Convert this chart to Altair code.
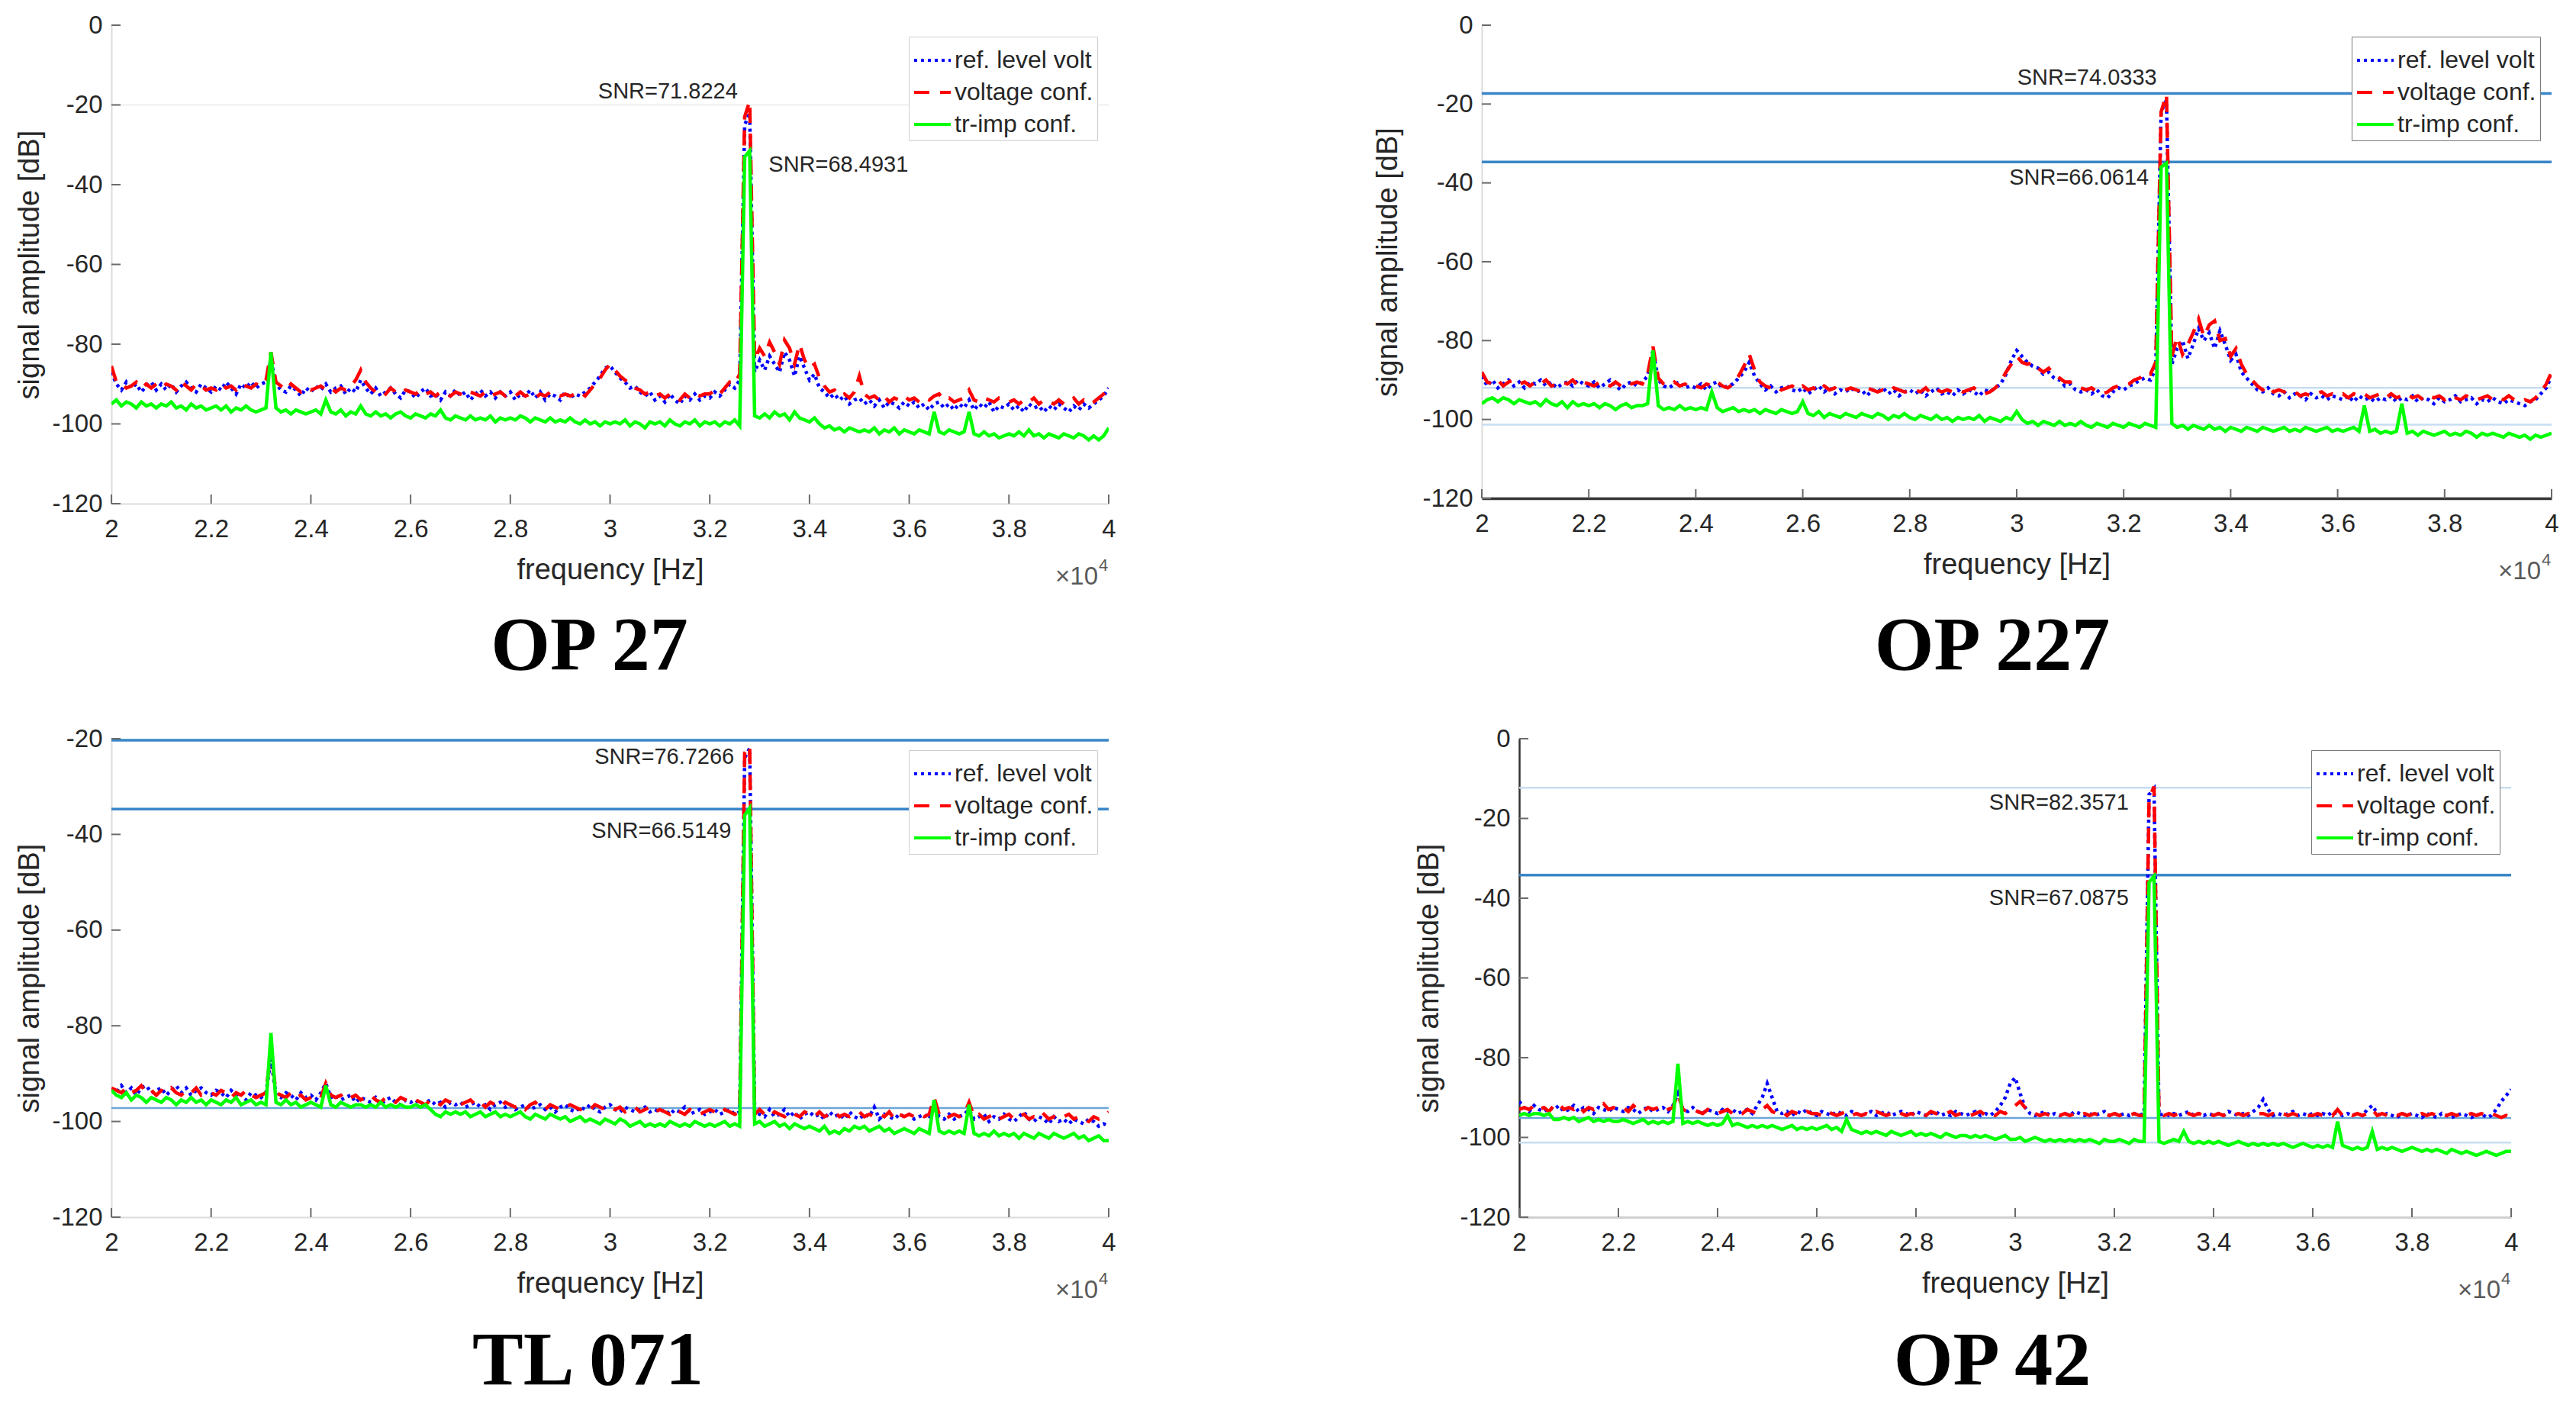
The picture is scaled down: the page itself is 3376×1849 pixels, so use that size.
import altair as alt
import pandas as pd

# ---------------- data ----------------
FREQ = [20000, 20100, 20200, 20300, 20400, 20500, 20600, 20700, 20800, 20900,
        21000, 21100, 21200, 21300, 21400, 21500, 21600, 21700, 21800, 21900,
        22000, 22100, 22200, 22300, 22400, 22500, 22600, 22700, 22800, 22900,
        23000, 23100, 23200, 23300, 23400, 23500, 23600, 23700, 23800, 23900,
        24000, 24100, 24200, 24300, 24400, 24500, 24600, 24700, 24800, 24900,
        25000, 25100, 25200, 25300, 25400, 25500, 25600, 25700, 25800, 25900,
        26000, 26100, 26200, 26300, 26400, 26500, 26600, 26700, 26800, 26900,
        27000, 27100, 27200, 27300, 27400, 27500, 27600, 27700, 27800, 27900,
        28000, 28100, 28200, 28300, 28400, 28500, 28600, 28700, 28800, 28900,
        29000, 29100, 29200, 29300, 29400, 29500, 29600, 29700, 29800, 29900,
        30000, 30100, 30200, 30300, 30400, 30500, 30600, 30700, 30800, 30900,
        31000, 31100, 31200, 31300, 31400, 31500, 31600, 31700, 31800, 31900,
        32000, 32100, 32200, 32300, 32400, 32500, 32600, 32700, 32800, 32900,
        33000, 33100, 33200, 33300, 33400, 33500, 33600, 33700, 33800, 33900,
        34000, 34100, 34200, 34300, 34400, 34500, 34600, 34700, 34800, 34900,
        35000, 35100, 35200, 35300, 35400, 35500, 35600, 35700, 35800, 35900,
        36000, 36100, 36200, 36300, 36400, 36500, 36600, 36700, 36800, 36900,
        37000, 37100, 37200, 37300, 37400, 37500, 37600, 37700, 37800, 37900,
        38000, 38100, 38200, 38300, 38400, 38500, 38600, 38700, 38800, 38900,
        39000, 39100, 39200, 39300, 39400, 39500, 39600, 39700, 39800, 39900,
        40000]

OP27_REF = [-87, -90, -91.5, -89.5, -91, -90, -92, -90.5, -89.5, -91.5,
            -90, -91.5, -90, -92, -90.5, -89.5, -91, -92, -90, -91,
            -92, -90.5, -91.5, -89.5, -91, -92.5, -90, -91, -89.5, -91,
            -90, -89.5, -84, -90, -91.5, -92, -90.5, -91.5, -93, -91,
            -92, -90.5, -91.5, -90, -92, -91, -90.5, -92.5, -91, -92,
            -89, -91, -92.5, -91, -93, -92, -91, -92.5, -93.5, -91.5,
            -92, -93.5, -92, -91, -93, -92.5, -94, -92, -93, -91.5,
            -93, -92, -94, -92.5, -91.5, -93, -92, -93.5, -92, -93,
            -92, -94, -92.5, -93, -91.5, -93.5, -92, -94, -92.5, -93,
            -94, -92, -93.5, -92.5, -93, -92, -91, -89.5, -88, -86,
            -85.5, -87, -88.5, -89.5, -91, -90.5, -92, -93, -92, -94,
            -93, -94.5, -92.5, -94, -95, -93, -94, -92.5, -94, -93,
            -93.5, -92, -93, -91.5, -90, -91, -89, -25, -22, -87,
            -84, -86.5, -83, -85, -87, -82, -84, -88, -83, -86,
            -89, -87.5, -91, -92, -93.5, -92.5, -94, -93, -95, -94,
            -93.5, -95, -94, -95.5, -94, -96, -94.5, -95, -96, -94.5,
            -95.5, -94.5, -96, -95, -96.5, -95, -94.5, -96, -95, -96.5,
            -95, -96, -94, -96.5, -95, -96, -94.5, -97, -95.5, -96,
            -95, -96.5, -95.5, -97, -95, -96, -95.5, -97, -95.5, -96.5,
            -95, -96, -97, -95.5, -96.5, -95, -96, -95, -94, -93,
            -91]
OP27_VOLT = [-85.5, -89.5, -90, -91, -90.5, -89.5, -91, -90, -91, -90,
             -91, -90, -90.5, -91.5, -89.5, -90.5, -91.5, -90, -90.5, -91.5,
             -91, -91.5, -90, -91, -90.5, -91.5, -90, -90.5, -91, -90,
             -90.5, -89, -82, -89.5, -90.5, -91.5, -90, -91, -92, -91,
             -91.5, -91, -90.5, -91.5, -91, -92, -91, -91.5, -90.5, -89,
             -86.5, -89.5, -91, -92, -91.5, -92.5, -91, -92, -92.5, -91.5,
             -92, -92.5, -91.5, -92.5, -92, -93, -92, -92.5, -93, -92,
             -92.5, -93, -92, -92.5, -93, -92, -93, -92.5, -92, -93,
             -92.5, -93, -92, -93, -92.5, -93.5, -92.5, -93, -92, -92.5,
             -93, -92.5, -93, -92.5, -92, -93, -91.5, -90, -88.5, -86.5,
             -85, -86.5, -88, -89, -90, -91, -91.5, -92.5, -92, -93,
             -92.5, -93.5, -92.5, -93, -94, -92.5, -93.5, -92.5, -93, -92.5,
             -92.5, -91.5, -92.5, -91, -89.5, -90, -87.5, -23, -19, -84,
             -81, -83, -79.5, -82, -85, -79, -81, -85, -80, -84,
             -86, -85, -88.5, -90.5, -92, -91.5, -93, -92.5, -93.5, -92,
             -88, -92.5, -93.5, -93, -94, -93, -94.5, -93.5, -94, -93,
             -94, -93.5, -94.5, -93.5, -94, -93, -92.5, -94, -93.5, -94.5,
             -94, -93.5, -91.5, -94, -94.5, -93.5, -94, -94.5, -93.5, -94,
             -94.5, -94, -95, -94, -94.5, -93.5, -95, -94, -94.5, -95,
             -94, -95, -94.5, -93.5, -95, -94, -95, -94.5, -93.5, -92.5,
             -90.5]
OP27_TR = [-95, -94, -95.5, -94.5, -95, -96, -94.5, -95.5, -95, -96,
           -95, -95.5, -94.5, -96, -95.5, -96.5, -95, -96, -95.5, -96.5,
           -96, -95.5, -96.5, -95.5, -97, -96, -96.5, -95.5, -96.5, -97,
           -96.5, -96, -82, -96, -97, -96.5, -97.5, -96.5, -97, -97.5,
           -97, -96.5, -97.5, -94, -97, -97.5, -96.5, -98, -97, -97.5,
           -95.5, -97.5, -98, -97, -98, -97.5, -98.5, -97.5, -97, -98,
           -98.5, -97.5, -98, -98.5, -97.5, -98, -96.5, -98.5, -99, -98,
           -98.5, -99, -98, -99, -98.5, -99, -98, -99.5, -98.5, -99,
           -98.5, -99, -98, -98.5, -99.5, -98.5, -99, -99.5, -98.5, -99.5,
           -99, -99.5, -98.5, -99.5, -100, -99, -100, -99.5, -100.5, -99.5,
           -100, -99.5, -100, -99, -100.5, -99.5, -100, -101, -99.5, -100,
           -99.5, -100.5, -99, -100, -100.5, -99.5, -100, -99, -100.5, -99.5,
           -100, -99.5, -100.5, -99.5, -100, -99, -100.5, -33, -31.5, -98,
           -98.5, -97.5, -98.5, -97, -98, -97.5, -99, -97, -98.5, -99,
           -99.5, -98.5, -100, -101, -100.5, -101.5, -101, -102, -101, -101.5,
           -102, -101.5, -102, -101, -102.5, -101.5, -102, -101, -102.5, -101.5,
           -102, -102.5, -101.5, -102, -102.5, -97, -102, -102.5, -101.5, -102,
           -102.5, -102, -97, -102.5, -103, -102, -103, -102.5, -103.5, -103,
           -102.5, -103, -102, -103, -101.5, -103, -102.5, -103.5, -102.5, -103,
           -103.5, -102.5, -103, -103.5, -102.5, -103, -104, -103, -104, -103,
           -101]

OP227_REF = [-89, -91.5, -90, -92, -91, -90, -91.5, -90.5, -92, -90.5,
             -91, -90, -91.5, -90.5, -92, -91, -90.5, -91.5, -90, -91,
             -91.5, -90.5, -92, -91, -90, -91.5, -92.5, -91, -90.5, -91.5,
             -90.5, -89, -82.5, -90, -91.5, -92, -91, -90.5, -92, -91.5,
             -92, -91, -92.5, -91, -90.5, -92, -91.5, -91, -89.5, -88,
             -85.5, -89, -91, -92.5, -91.5, -93, -92, -91.5, -92.5, -93,
             -92, -93.5, -92.5, -91.5, -93, -92, -93.5, -92.5, -93, -92,
             -93, -92.5, -94, -92.5, -93, -92, -93.5, -92.5, -94, -93,
             -92.5, -93.5, -92.5, -94, -93, -92, -93.5, -93, -94, -92.5,
             -93.5, -92.5, -93, -94, -92.5, -93, -92, -91, -88.5, -85,
             -82.5, -84, -85.5, -86.5, -87, -88.5, -88, -89.5, -90, -91.5,
             -91, -92.5, -93, -92.5, -93.5, -92.5, -94, -94.5, -93, -92,
             -92.5, -91.5, -91, -90, -89.5, -90, -87, -22, -19, -86,
             -82, -80, -84.5, -81, -77, -80, -78, -82, -77.5, -81,
             -85, -83.5, -88, -89.5, -91, -92.5, -93, -92, -93.5, -94,
             -93, -94.5, -93.5, -94, -95, -93.5, -94.5, -94, -95, -94,
             -94.5, -95, -94, -95.5, -94, -95, -94.5, -95.5, -94.5, -95,
             -94, -95.5, -94.5, -95, -94, -95.5, -94.5, -95, -96, -94.5,
             -95.5, -95, -94, -95.5, -95, -94.5, -96, -95, -95.5, -94.5,
             -95.5, -96, -95, -95.5, -96, -96.5, -95.5, -95, -93.5, -92,
             -89]
OP227_VOLT = [-88, -90.5, -91, -90, -91.5, -90.5, -90, -91, -90.5, -91.5,
              -90.5, -91, -90, -91.5, -91, -90.5, -91, -90, -91.5, -90.5,
              -91, -91.5, -90.5, -91, -91.5, -90.5, -91.5, -90.5, -91, -90.5,
              -91, -88.5, -81.5, -89.5, -91, -91.5, -90.5, -91.5, -91, -92,
              -91.5, -92, -91, -91.5, -90.5, -91.5, -92, -91, -89, -86.5,
              -83.5, -87.5, -90.5, -91.5, -92, -91.5, -92.5, -92, -91.5, -92.5,
              -91.5, -92.5, -92, -93, -91.5, -92.5, -92, -93, -92.5, -92,
              -92.5, -93, -92, -92.5, -93, -92.5, -93, -92, -92.5, -93,
              -93, -92.5, -93, -92, -93.5, -92.5, -93, -92.5, -93, -92.5,
              -93, -92.5, -92, -93, -93.5, -93, -92, -90.5, -88, -86,
              -84, -85.5, -86, -85.5, -87, -88, -87, -88.5, -89.5, -90.5,
              -90.5, -91.5, -92, -92.5, -92, -93, -93.5, -93, -92, -91.5,
              -91.5, -91, -90, -89.5, -88, -88.5, -85.5, -22, -17.5, -84,
              -79, -83.5, -81, -78, -74.5, -79, -76, -75, -80, -79.5,
              -84, -82, -86, -88.5, -90, -91.5, -92.5, -91.5, -93, -92.5,
              -93, -93.5, -93, -94, -93.5, -94, -93.5, -93, -94, -93.5,
              -94, -93.5, -94.5, -93.5, -94, -93.5, -94.5, -94, -93.5, -94.5,
              -93.5, -94.5, -94, -93.5, -94.5, -94, -95, -94, -94.5, -94,
              -95, -94, -94.5, -95, -94, -94.5, -95, -94.5, -94, -95,
              -94.5, -95, -94, -95, -95.5, -95, -95.5, -94.5, -93, -91,
              -88]
OP227_TR = [-96, -95, -94.5, -95.5, -94.5, -95, -96, -95, -95.5, -96,
            -95.5, -96.5, -95, -96, -96.5, -95.5, -97, -95.5, -96.5, -96,
            -96.5, -96, -97, -96, -96.5, -97.5, -96.5, -96, -97, -96.5,
            -96.5, -96, -82.5, -96.5, -97.5, -97, -97.5, -96.5, -97.5, -97,
            -97.5, -97, -97.5, -93, -97, -98, -97.5, -97, -98, -97.5,
            -98, -97.5, -98.5, -97.5, -98, -98.5, -97.5, -98, -98.5, -98,
            -95.5, -98.5, -99, -98, -99.5, -98.5, -99, -99.5, -98.5, -99,
            -99.5, -98.5, -99, -99.5, -98.5, -99, -100, -99, -99.5, -98.5,
            -99.5, -100, -99, -99.5, -100, -99, -100, -99.5, -100.5, -99.5,
            -100, -99.5, -100, -99, -100.5, -99.5, -100, -100.5, -99.5, -100,
            -98, -100, -101, -100.5, -101.5, -100.5, -101, -101.5, -100.5, -101.5,
            -101, -101.5, -100.5, -101.5, -102, -101, -101.5, -102, -101, -101.5,
            -102, -101, -101.5, -102, -101, -101.5, -102, -36, -35, -101,
            -102, -101.5, -102.5, -101.5, -102, -102.5, -101.5, -102.5, -102, -103,
            -102, -102.5, -103, -102, -102.5, -103, -102, -102.5, -103, -102.5,
            -102, -103, -102.5, -103, -102, -102.5, -103, -102.5, -102, -103,
            -102.5, -103, -102.5, -102, -103, -96.5, -103, -102.5, -103.5, -103,
            -103.5, -103, -96, -103.5, -103, -104, -103, -103.5, -104, -103.5,
            -103, -104, -103.5, -104, -103, -103.5, -104.5, -103.5, -104, -103.5,
            -104, -104.5, -103.5, -104, -104.5, -104, -105, -104, -104.5, -104,
            -103.5]

TL071_REF = [-93.5, -94, -92.5, -94, -93, -94.5, -93, -92.5, -94, -93.5,
             -93, -94.5, -93.5, -92.5, -94, -93, -94.5, -93.5, -93, -94,
             -94.5, -93.5, -94, -95, -93.5, -94.5, -94, -95.5, -94, -94.5,
             -95, -94, -87, -94.5, -95, -94, -94.5, -95.5, -94, -95,
             -94.5, -95.5, -94, -92, -95, -94.5, -95.5, -95, -94.5, -96,
             -95, -95.5, -96, -95, -96.5, -95.5, -95, -96, -96.5, -95.5,
             -96, -95.5, -96.5, -96, -95.5, -96.5, -96, -97, -96, -96.5,
             -96, -97, -96.5, -96, -97, -96.5, -97.5, -96.5, -96, -97,
             -96.5, -97.5, -97, -96.5, -97.5, -97, -96.5, -97.5, -97, -98,
             -97, -96.5, -97.5, -98, -97, -97.5, -96.5, -97.5, -98, -97,
             -96.5, -97.5, -98, -97, -97.5, -98, -97.5, -97, -98, -97.5,
             -98, -97.5, -98.5, -97.5, -98, -97, -98.5, -98, -97.5, -98.5,
             -98, -97.5, -98.5, -98, -97.5, -98.5, -98, -24, -22, -98,
             -98.5, -99, -97.5, -99, -98.5, -97.5, -99, -98, -99.5, -98.5,
             -98, -99, -98.5, -99.5, -98, -99, -98.5, -99.5, -98, -99,
             -99.5, -98.5, -99, -97, -99.5, -98.5, -99, -99.5, -98.5, -99,
             -98.5, -99.5, -99, -98.5, -99.5, -97, -99, -99.5, -98.5, -99.5,
             -99, -98.5, -97.5, -99.5, -99, -98.5, -100, -99, -99.5, -98.5,
             -99.5, -100, -99, -98, -99.5, -100, -99, -99.5, -100.5, -99,
             -100, -99.5, -100.5, -99.5, -100, -100.5, -99.5, -100, -101, -100.5,
             -101]
TL071_VOLT = [-93, -93.5, -94, -93, -94, -93.5, -92.5, -94, -93.5, -94.5,
              -93.5, -94, -93, -94, -94.5, -93.5, -94, -93, -94.5, -94,
              -94, -94.5, -93.5, -94, -95, -94, -94.5, -93.5, -94.5, -95,
              -94.5, -94, -85, -94, -94.5, -95, -94, -95, -94.5, -95.5,
              -95, -94.5, -95, -92, -94.5, -95, -94.5, -95.5, -95, -94.5,
              -95.5, -95, -94.5, -95.5, -96, -95, -95.5, -96, -95, -95.5,
              -96, -95.5, -96, -96.5, -95.5, -96, -96.5, -95.5, -96, -96.5,
              -96.5, -96, -95.5, -96.5, -96, -97, -96, -96.5, -97, -96,
              -96.5, -97, -96.5, -97.5, -96.5, -96, -97, -97.5, -96.5, -97,
              -97.5, -97, -96.5, -97, -97.5, -97, -97.5, -96.5, -97, -97.5,
              -97, -97.5, -97, -98, -97.5, -97, -98, -97.5, -97, -98,
              -97.5, -98, -98.5, -97.5, -98, -98.5, -97.5, -98, -98.5, -98,
              -97.5, -98, -98.5, -97.5, -98, -98.5, -98, -23, -21.5, -98.5,
              -97.5, -98.5, -99, -98, -98.5, -99, -98, -98.5, -99, -98,
              -98.5, -99, -98, -99, -98.5, -98, -99, -98.5, -99, -98.5,
              -98, -99, -98.5, -99, -98.5, -99, -98, -99.5, -98.5, -99,
              -98.5, -99, -98.5, -99, -98.5, -95, -98.5, -99.5, -99, -98.5,
              -99, -98.5, -96, -99, -98.5, -99.5, -99, -98.5, -99.5, -99,
              -98.5, -99.5, -99, -98.5, -99.5, -99, -99.5, -98.5, -99.5, -99,
              -99.5, -99, -98.5, -99.5, -99, -99.5, -100, -99, -99.5, -99,
              -98]
TL071_TR = [-93.5, -94.5, -95, -94, -95.5, -94.5, -95, -96, -95, -95.5,
            -96, -95, -95.5, -96.5, -95.5, -96, -95, -96, -95.5, -96.5,
            -95.5, -96, -96.5, -95.5, -96, -95, -96.5, -96, -95.5, -96.5,
            -96, -96.5, -81.5, -96, -96.5, -95.5, -96.5, -96, -97, -96.5,
            -96, -96.5, -97, -92.5, -96.5, -97, -96, -96.5, -97, -96.5,
            -96.5, -97, -96.5, -97, -96, -97, -96.5, -97, -96.5, -97,
            -97, -96.5, -97, -96.5, -97.5, -98.5, -99, -98, -98.5, -98,
            -98.5, -98, -99, -98.5, -98, -99, -98.5, -98, -99, -98.5,
            -99, -98.5, -98, -99, -99.5, -98.5, -99, -99.5, -98.5, -99,
            -99.5, -99, -100, -99.5, -99, -100, -99.5, -100, -100.5, -99.5,
            -100, -100.5, -99.5, -100, -101, -100.5, -100, -101, -100.5, -101,
            -100.5, -101, -100, -100.5, -101, -100.5, -101, -100, -100.5, -101,
            -100.5, -101, -100.5, -100, -101, -100.5, -101, -36, -34.5, -100.5,
            -100, -101, -100.5, -100, -101, -100.5, -101.5, -100.5, -101, -101.5,
            -101, -101.5, -102, -101, -102.5, -102, -102.5, -101.5, -102, -101,
            -101.5, -101, -102, -101.5, -101, -102, -101.5, -102.5, -102, -101.5,
            -102, -102.5, -101.5, -102, -102.5, -95.5, -102, -102.5, -102, -102.5,
            -102, -102.5, -96.5, -102.5, -103, -102.5, -103, -102, -103, -102.5,
            -103, -102.5, -103.5, -102.5, -103, -103.5, -102.5, -103, -103.5, -102.5,
            -103, -103.5, -103, -102.5, -103.5, -103, -104, -103.5, -103, -104,
            -104]

OP42_REF = [-91, -92.5, -93.5, -92, -93, -93.5, -92.5, -93, -92, -93.5,
            -93, -92, -93.5, -92.5, -93, -94, -92.5, -93, -93.5, -92.5,
            -93, -93.5, -92.5, -93, -94, -93, -92.5, -93.5, -93, -92.5,
            -93.5, -92, -89, -93, -93.5, -92.5, -93.5, -94, -93, -93.5,
            -94, -93, -93.5, -93, -94, -93.5, -93, -94, -92, -90,
            -86.5, -90, -93.5, -94, -93.5, -94.5, -93.5, -94, -93, -94,
            -94.5, -93.5, -94, -94.5, -93.5, -94, -94.5, -93.5, -94, -94.5,
            -94, -93.5, -94.5, -94, -93.5, -94.5, -94, -93.5, -94, -94.5,
            -93.5, -94, -94.5, -94, -93.5, -94.5, -94, -94.5, -93.5, -94,
            -94.5, -94, -93.5, -94.5, -94, -94.5, -93.5, -92, -90, -86.5,
            -85, -89, -92.5, -94, -94.5, -94, -93.5, -94.5, -94, -94.5,
            -94, -94.5, -93.5, -94, -94.5, -94, -94.5, -94, -93.5, -94.5,
            -94, -94.5, -94, -94.5, -94, -94.5, -94, -14, -12.5, -94.5,
            -94, -94.5, -94, -94.5, -94, -93.5, -94.5, -94, -94.5, -94,
            -94.5, -94, -94.5, -93.5, -94, -94.5, -94, -94.5, -93.5, -92.5,
            -90.5, -93, -94.5, -94, -94.5, -94, -93.5, -94.5, -94, -94.5,
            -94, -94.5, -94, -94.5, -93.5, -94, -94.5, -94, -94.5, -94,
            -94.5, -93, -92, -94, -94.5, -94, -94.5, -95, -94, -94.5,
            -94, -94.5, -95, -94, -94.5, -95, -94, -94.5, -95, -94.5,
            -94, -94.5, -95, -94.5, -94, -95, -94.5, -93, -91, -89.5,
            -88]
OP42_VOLT = [-93, -92.5, -93, -92, -93, -92.5, -93.5, -92, -91.5, -93,
             -92.5, -93, -92, -93.5, -92.5, -93, -92, -91.5, -93, -92.5,
             -93, -92.5, -93.5, -92, -93, -93.5, -92.5, -93, -92.5, -93.5,
             -93, -92.5, -89, -93, -93.5, -93, -93.5, -94, -93, -93.5,
             -94, -93.5, -93, -94, -93.5, -94, -93, -93.5, -94, -93,
             -92, -93.5, -94, -93.5, -94.5, -93.5, -94, -94.5, -93.5, -94,
             -94, -94.5, -93.5, -94, -94.5, -94, -93.5, -94.5, -94, -94.5,
             -94, -94.5, -93.5, -94, -94.5, -94, -93.5, -94, -94.5, -94,
             -94.5, -94, -94.5, -93.5, -94, -94.5, -94, -93.5, -94.5, -94,
             -94, -94.5, -94, -93.5, -94.5, -94, -94.5, -93.5, -94, -93,
             -92, -91, -92.5, -93.5, -94, -94.5, -94, -94.5, -94, -94.5,
             -94, -94.5, -94, -94.5, -94, -94.5, -94, -94.5, -94, -94.5,
             -94, -94.5, -94, -94.5, -94, -94.5, -94.5, -15, -12, -94,
             -94.5, -94, -94.5, -94, -94.5, -94, -94.5, -94, -94.5, -94,
             -94.5, -94, -94.5, -94, -94.5, -94, -94.5, -94, -94.5, -94,
             -94, -94.5, -94, -94.5, -94, -94.5, -94, -94.5, -94, -94.5,
             -94.5, -94, -94.5, -94, -94.5, -93, -94.5, -94, -94.5, -94,
             -94.5, -94, -93, -94.5, -94, -94.5, -94, -94.5, -94, -94.5,
             -94, -94.5, -94, -94.5, -94, -94.5, -94, -94.5, -94, -94.5,
             -94, -94.5, -94, -94.5, -94, -94.5, -94, -94.5, -95, -94.5,
             -95]
OP42_TR = [-94.5, -94, -94.5, -94, -94, -94.5, -94, -95.5, -95.5, -95,
           -95.5, -95, -96, -95.5, -95, -96, -95.5, -96, -95.5, -96,
           -96, -95.5, -96, -96.5, -96, -95.5, -96.5, -96, -96.5, -96,
           -96.5, -96, -81.5, -96.5, -96, -96.5, -96, -96.5, -97, -96.5,
           -97, -96.5, -94.5, -97, -96.5, -97, -97.5, -97, -97.5, -97,
           -97.5, -97, -97.5, -98, -97.5, -97, -98, -97.5, -98, -97.5,
           -98, -97.5, -97, -98, -97.5, -98.5, -95.5, -98, -98.5, -99,
           -98.5, -99, -98.5, -99, -99.5, -98.5, -99, -99.5, -99, -98.5,
           -99.5, -99, -99.5, -99, -99.5, -100, -99, -99.5, -100, -99.5,
           -99.5, -100, -99.5, -100, -99.5, -100, -100.5, -100, -99.5, -100.5,
           -100.5, -100, -101, -100.5, -100, -100.5, -101, -100.5, -101, -100.5,
           -101, -100.5, -101, -100.5, -101, -100.5, -101, -101.5, -100.5, -101,
           -101, -100.5, -101, -101.5, -100.5, -101, -101, -36, -34.5, -101,
           -101.5, -101, -100.5, -101, -98.5, -101, -101.5, -101, -101.5, -101,
           -101.5, -101, -101.5, -102, -101.5, -101, -101.5, -102, -101.5, -102,
           -101.5, -102, -101.5, -102, -101.5, -102, -102.5, -102, -101.5, -102,
           -102.5, -102, -102.5, -102, -102.5, -96, -102, -102.5, -103, -102.5,
           -103, -102.5, -98.5, -103, -102.5, -103, -102.5, -103, -103.5, -103,
           -102.5, -103, -103.5, -103, -103.5, -103, -103.5, -104, -103, -103.5,
           -104, -103.5, -104, -104.5, -104, -103.5, -104, -104.5, -104, -103.5,
           -103.5]

SERIES = ["ref. level volt", "voltage conf.", "tr-imp conf."]
PANEL_NAMES = ["OP 27", "OP 227", "TL 071", "OP 42"]
X_TICKS = [20000, 22000, 24000, 26000, 28000, 30000, 32000, 34000, 36000, 38000, 40000]
Y_TICKS_FULL = [0, -20, -40, -60, -80, -100, -120]
Y_TICKS_TL = [-20, -40, -60, -80, -100, -120]
EXP_BASE = ["×10"]
EXP_POW = ["4"]

# horizontal reference lines (dB level) and their kind
OP27_HL, OP27_HL_KIND = [-20], ["faint"]
OP227_HL, OP227_HL_KIND = [-17.3, -34.7, -92, -101.3], ["dark", "dark", "light", "light"]
TL071_HL, TL071_HL_KIND = [-20.3, -34.7, -97.2], ["dark", "dark", "mid"]
OP42_HL, OP42_HL_KIND = [-12.3, -34.2, -95.1, -101.3], ["light", "dark", "mid", "light"]

# SNR annotations: text, frequency, level, alignment
OP27_SNR = (["SNR=71.8224", "SNR=68.4931"], [32560, 33180], [-16.6, -35.1], ["right", "left"])
OP227_SNR = (["SNR=74.0333", "SNR=66.0614"], [32620, 32470], [-13.3, -38.8], ["right", "right"])
TL071_SNR = (["SNR=76.7266", "SNR=66.5149"], [32490, 32430], [-23.8, -39.3], ["right", "right"])
OP42_SNR = (["SNR=82.3571", "SNR=67.0875"], [32290, 32290], [-16.1, -40.0], ["right", "right"])

# ---------------- styles ----------------
SANS = "Liberation Sans, Arial, Helvetica, sans-serif"
SERIF = "Liberation Serif, Times New Roman, serif"
TXT = "#262626"
SERIES_COLORS = ["#0000ff", "#ff0000", "#00ff00"]
SERIES_DASH = [[4, 5], [20, 14], [1, 0]]
HL_STYLE = {"dark": ("#3a86c8", 3.5), "mid": ("#6aa5d8", 2.5),
            "light": ("#c6ddf0", 2.5), "faint": ("#efefef", 2)}
TICK_PX = 12

for arr in [OP27_REF, OP27_VOLT, OP27_TR, OP227_REF, OP227_VOLT, OP227_TR,
            TL071_REF, TL071_VOLT, TL071_TR, OP42_REF, OP42_VOLT, OP42_TR]:
    assert len(arr) == len(FREQ), len(arr)


def make_panel(name, series_vals, y_dom, y_ticks, W, H, hl, hl_kind, snr, st):
    rows = []
    for s, vals in zip(SERIES, series_vals):
        for f, v in zip(FREQ, vals):
            rows.append({"f": f, "v": v, "s": s})
    df = pd.DataFrame(rows)

    xaxis = alt.Axis(title="frequency [Hz]", values=X_TICKS, labelExpr="format(datum.value / 10000, '~g')",
                     ticks=False, tickSize=0, grid=False, domainColor=st["xdom"], domainWidth=st["xdomw"],
                     labelFont=SANS, labelFontSize=33, labelColor=TXT, labelPadding=17, labelFlush=False,
                     titleFont=SANS, titleFontSize=38, titleFontWeight="normal", titleColor=TXT, titlePadding=18)
    yaxis = alt.Axis(title="signal amplitude [dB]", values=y_ticks, labelExpr="datum.value + ''",
                     ticks=False, tickSize=0, grid=False, domainColor=st["ydom"], domainWidth=st["ydomw"],
                     labelFont=SANS, labelFontSize=33, labelColor=TXT, labelPadding=12, labelFlush=False,
                     titleFont=SANS, titleFontSize=38, titleFontWeight="normal", titleColor=TXT,
                     titlePadding=st["ytp"])
    xenc = alt.X("f:Q", scale=alt.Scale(domain=[20000, 40000], nice=False, zero=False), axis=xaxis)
    yenc = alt.Y("v:Q", scale=alt.Scale(domain=y_dom, nice=False, zero=False), axis=yaxis)

    leg = alt.Legend(title=None, orient="top-right", offset=15, fillColor="white", strokeColor=st["leg"],
                     padding=5, labelFont=SANS, labelFontSize=32, labelColor=TXT, symbolType="stroke",
                     symbolSize=2304, symbolStrokeWidth=4, labelLimit=500, rowPadding=0, labelOffset=3)
    color = alt.Color("s:N", scale=alt.Scale(domain=SERIES, range=SERIES_COLORS), legend=leg)
    dash = alt.StrokeDash("s:N", scale=alt.Scale(domain=SERIES, range=SERIES_DASH), legend=leg)

    hdf = pd.DataFrame({"v": hl, "c": [HL_STYLE[k][0] for k in hl_kind], "w": [HL_STYLE[k][1] for k in hl_kind]})
    hlines = alt.Chart(hdf).mark_rule().encode(
        y=yenc, stroke=alt.Stroke("c:N", scale=None), strokeWidth=alt.StrokeWidth("w:Q", scale=None))

    ymin, ymax = y_dom
    tick_db = TICK_PX * (ymax - ymin) / H
    tick_hz = TICK_PX * 20000 / W
    xt = pd.DataFrame({"f": X_TICKS, "v": [ymin] * len(X_TICKS), "v2": [ymin + tick_db] * len(X_TICKS)})
    yt = pd.DataFrame({"f": [20000] * len(y_ticks), "f2": [20000 + tick_hz] * len(y_ticks), "v": y_ticks})
    xticks = alt.Chart(xt).mark_rule(color="#6b6b6b", strokeWidth=2).encode(x=xenc, y=yenc, y2="v2:Q")
    yticks = alt.Chart(yt).mark_rule(color="#6b6b6b", strokeWidth=2).encode(x=xenc, x2="f2:Q", y=yenc)

    lines = [alt.Chart(df).transform_filter(alt.datum.s == s).mark_line(strokeWidth=4.5, clip=True).encode(
        x=xenc, y=yenc, color=color, strokeDash=dash) for s in SERIES]

    sdf = pd.DataFrame({"t": snr[0], "f": snr[1], "v": snr[2], "a": snr[3]})
    texts = [alt.Chart(sdf).transform_filter(alt.datum.a == a).mark_text(
        align=a, baseline="middle", font=SANS, fontSize=29, color=TXT).encode(x=xenc, y=yenc, text="t:N")
        for a in ["left", "right"]]

    expo = alt.Chart(pd.DataFrame({"t": EXP_BASE})).mark_text(
        align="right", baseline="alphabetic", font=SANS, fontSize=33, color="#5a5a5a").encode(
        x=alt.value(W - 14), y=alt.value(H + 106), text="t:N")
    expo_p = alt.Chart(pd.DataFrame({"t": EXP_POW})).mark_text(
        align="left", baseline="alphabetic", font=SANS, fontSize=22, color="#5a5a5a").encode(
        x=alt.value(W - 13), y=alt.value(H + 88), text="t:N")

    return alt.layer(hlines, xticks, yticks, *lines, *texts, expo, expo_p).properties(
        width=W, height=H,
        title=alt.TitleParams(text=name, orient="bottom", anchor="middle", frame="group", font=SERIF,
                              fontSize=100, fontWeight="bold", color="black", baseline="alphabetic",
                              offset=st["toff"], dx=st["tdx"]))


LIGHT = "#dcdcdc"
DARK = "#333333"
p1 = make_panel(PANEL_NAMES[0], [OP27_REF, OP27_VOLT, OP27_TR], [-120, 0], Y_TICKS_FULL, 1307, 627,
                OP27_HL, OP27_HL_KIND, OP27_SNR,
                {"xdom": LIGHT, "xdomw": 2, "ydom": LIGHT, "ydomw": 2, "ytp": 9, "leg": "#cfcfcf",
                 "toff": 104, "tdx": -27})
p2 = make_panel(PANEL_NAMES[1], [OP227_REF, OP227_VOLT, OP227_TR], [-120, 0], Y_TICKS_FULL, 1402, 620,
                OP227_HL, OP227_HL_KIND, OP227_SNR,
                {"xdom": DARK, "xdomw": 3.5, "ydom": LIGHT, "ydomw": 2, "ytp": 25, "leg": "#7a7a7a",
                 "toff": 111, "tdx": -32})
p3 = make_panel(PANEL_NAMES[2], [TL071_REF, TL071_VOLT, TL071_TR], [-120, -20], Y_TICKS_TL, 1307, 627,
                TL071_HL, TL071_HL_KIND, TL071_SNR,
                {"xdom": LIGHT, "xdomw": 2, "ydom": LIGHT, "ydomw": 2, "ytp": 9, "leg": "#cfcfcf",
                 "toff": 106, "tdx": -29})
p4 = make_panel(PANEL_NAMES[3], [OP42_REF, OP42_VOLT, OP42_TR], [-120, 0], Y_TICKS_FULL, 1300, 627,
                OP42_HL, OP42_HL_KIND, OP42_SNR,
                {"xdom": "#d0d0d0", "xdomw": 3, "ydom": DARK, "ydomw": 2.5, "ytp": 20, "leg": "#7a7a7a",
                 "toff": 106, "tdx": -30})

RES = dict(color="independent", strokeDash="independent", x="independent", y="independent")
top = alt.hconcat(p1, p2, spacing=337).resolve_scale(**RES)
bottom = alt.hconcat(p3, p4, spacing=391).resolve_scale(**RES)
chart = alt.vconcat(top, bottom, spacing=55).resolve_scale(**RES).properties(
    padding={"left": 12, "top": 9, "right": 5, "bottom": 5}
).configure_view(stroke=None)

chart.save("out.html", embed_options={"renderer": "svg", "actions": False})
